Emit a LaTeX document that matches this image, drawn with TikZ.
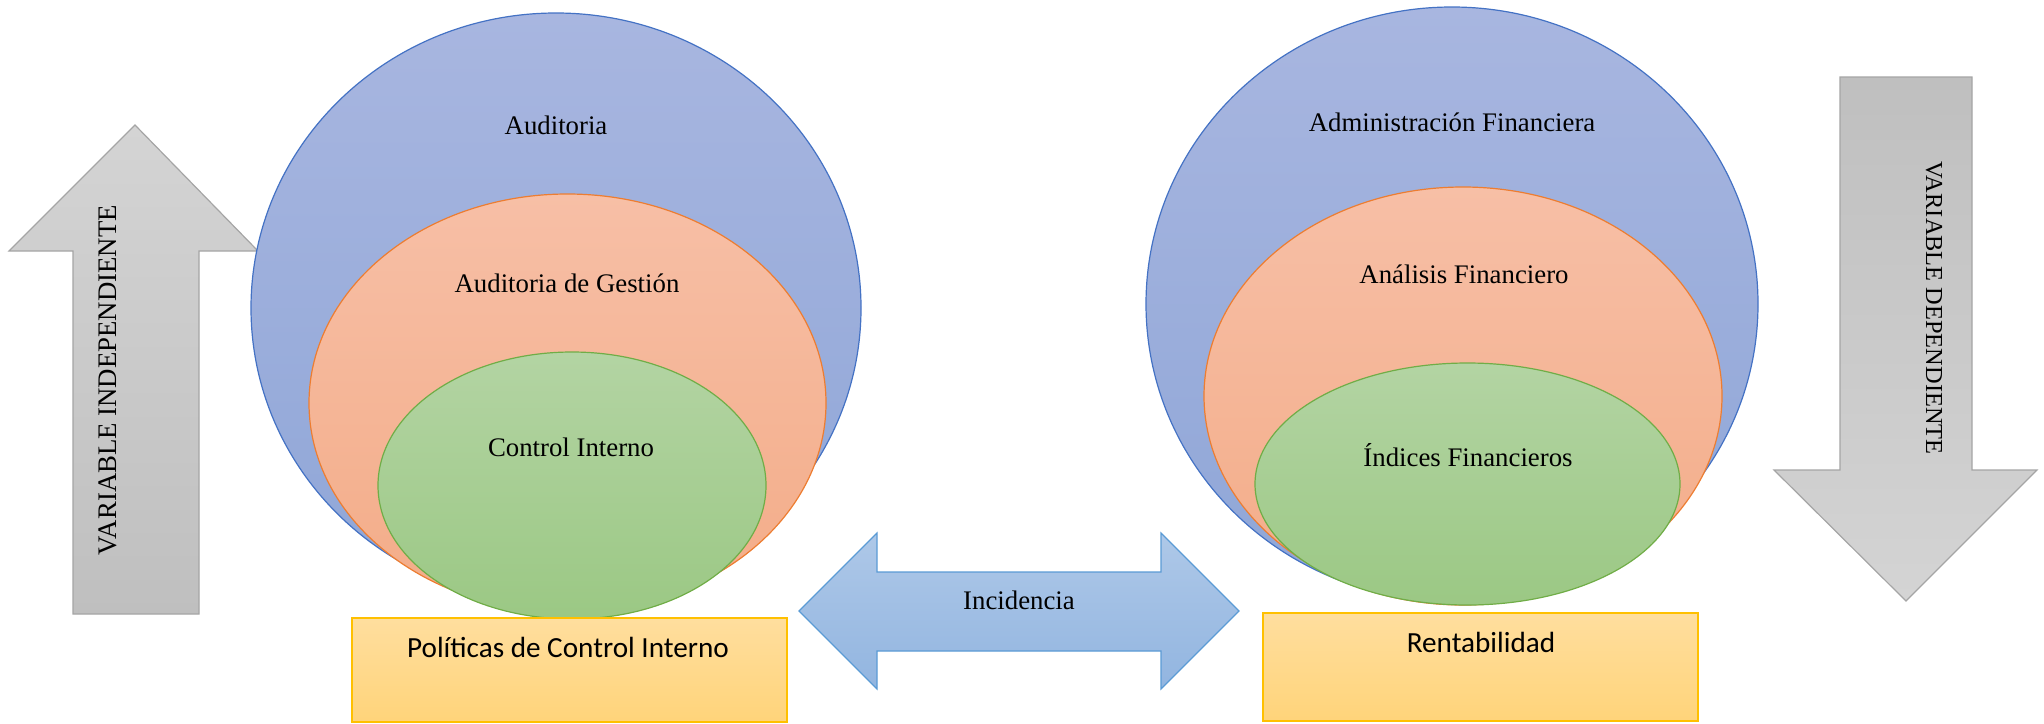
\documentclass[tikz,border=0pt]{standalone}
\usepackage{fontspec}
\setmainfont{Liberation Serif}
\newfontfamily\calibri{Carlito}
\usetikzlibrary{shapes.geometric}

\definecolor{blueTop}{HTML}{A8B6E0}
\definecolor{blueBot}{HTML}{8FA6D7}
\definecolor{blueLine}{HTML}{4472C4}
\definecolor{orangeTop}{HTML}{F7BFA6}
\definecolor{orangeBot}{HTML}{F3AC88}
\definecolor{orangeLine}{HTML}{ED7D31}
\definecolor{greenTop}{HTML}{B3D4A3}
\definecolor{greenBot}{HTML}{9BC884}
\definecolor{greenLine}{HTML}{70AD47}
\definecolor{grayTop}{HTML}{D4D4D4}
\definecolor{grayBot}{HTML}{BFBFBF}
\definecolor{grayLine}{HTML}{A5A5A5}
\definecolor{skyTop}{HTML}{AEC8E8}
\definecolor{skyBot}{HTML}{92B5E0}
\definecolor{skyLine}{HTML}{5B9BD5}
\definecolor{goldTop}{HTML}{FFDE9E}
\definecolor{goldBot}{HTML}{FFD47A}
\definecolor{goldLine}{HTML}{FFC000}

\begin{document}
\begin{tikzpicture}[x=0.5pt,y=-0.5pt,
  outer/.style={ellipse, inner sep=0pt, line width=0.6pt, draw=blueLine,
    top color=blueTop, bottom color=blueBot},
  middle/.style={ellipse, inner sep=0pt, line width=0.6pt, draw=orangeLine,
    top color=orangeTop, bottom color=orangeBot},
  inner/.style={ellipse, inner sep=0pt, line width=0.6pt, draw=greenLine,
    top color=greenTop, bottom color=greenBot},
  goldbox/.style={rectangle, inner sep=0pt, line width=0.8pt, draw=goldLine,
    top color=goldTop, bottom color=goldBot},
  grayarrow/.style={line width=0.6pt, draw=grayLine, line join=miter},
  skyarrow/.style={line width=0.6pt, draw=skyLine, top color=skyTop, bottom color=skyBot},
  serif/.style={inner sep=0pt, anchor=base, font=\fontsize{13.4}{16}\selectfont},
  sans/.style={inner sep=0pt, anchor=base, font=\calibri\fontsize{14.6}{17}\selectfont},
  vtext/.style={inner sep=0pt}]
\useasboundingbox (0,0) rectangle (2044,723);

% independent variable: upward arrow
\draw[grayarrow, top color=grayTop, bottom color=grayBot]
  (135,125) -- (258,251) -- (199,251) -- (199,614) -- (73,614) -- (73,251) -- (9,251) -- cycle;
\node[vtext, rotate=90, font=\fontsize{13.4}{16}\selectfont] (indep) at (108,380) {VARIABLE INDEPENDIENTE};

% dependent variable: downward arrow
\draw[grayarrow, top color=grayBot, bottom color=grayTop]
  (1840,77) -- (1972,77) -- (1972,470) -- (2037,470) -- (1906,601) -- (1774,470) -- (1840,470) -- cycle;
\node[vtext, rotate=-90, font=\fontsize{12.2}{15}\selectfont] (dep) at (1934,308) {VARIABLE DEPENDIENTE};

% left group of nested ellipses
\node[outer, minimum width=305pt, minimum height=295pt] (aud) at (556,308) {};
\node[middle, minimum width=258.5pt, minimum height=209pt] (gest) at (567.5,403) {};
\node[inner, minimum width=194pt, minimum height=133.5pt] (ctrl) at (572,485.5) {};
\node[serif] (audT) at (556,134) {Auditoria};
\node[serif] (gestT) at (567,292) {Auditoria de Gestión};
\node[serif] (ctrlT) at (571,456) {Control Interno};

% right group of nested ellipses
\node[outer, minimum width=306pt, minimum height=297pt] (adm) at (1452,304) {};
\node[middle, minimum width=259pt, minimum height=209pt] (ana) at (1463,396) {};
\node[inner, minimum width=212.5pt, minimum height=121pt] (ind) at (1467.5,484) {};
\node[serif] (admT) at (1452,131) {Administración Financiera};
\node[serif] (anaT) at (1464,283) {Análisis Financiero};
\node[serif] (indT) at (1468,466) {Índices Financieros};

% bottom boxes
\node[goldbox, minimum width=217.5pt, minimum height=52pt] (pol) at (569.5,670) {};
\node[sans] (polT) at (568,657) {Políticas de Control Interno};
\node[goldbox, minimum width=217.5pt, minimum height=54pt] (rent) at (1480.5,667) {};
\node[sans] (rentT) at (1481,652) {Rentabilidad};

% two-headed arrow between the groups
\draw[skyarrow]
  (799,611) -- (877,533) -- (877,572) -- (1161,572) -- (1161,533) -- (1239,611)
  -- (1161,689) -- (1161,651) -- (877,651) -- (877,689) -- cycle;
\node[serif] (inc) at (1019,609) {Incidencia};
\end{tikzpicture}
\end{document}
